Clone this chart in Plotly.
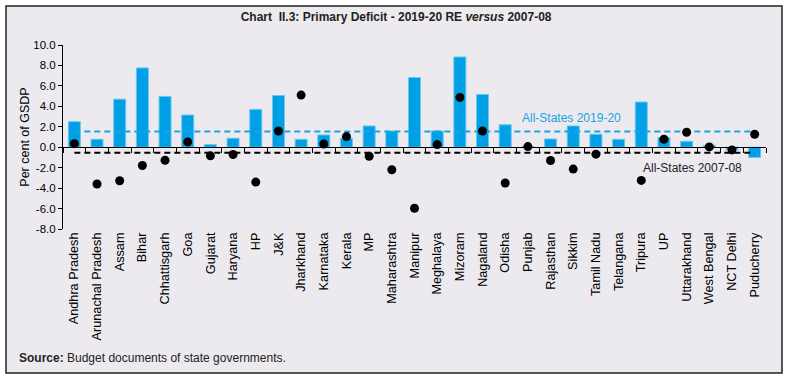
import plotly.graph_objects as go

states = ["Andhra Pradesh", "Arunachal Pradesh", "Assam", "Bihar", "Chhattisgarh", "Goa",
          "Gujarat", "Haryana", "HP", "J&K", "Jharkhand", "Karnataka", "Kerala", "MP",
          "Maharashtra", "Manipur", "Meghalaya", "Mizoram", "Nagaland", "Odisha", "Punjab",
          "Rajasthan", "Sikkim", "Tamil Nadu", "Telangana", "Tripura", "UP", "Uttarakhand",
          "West Bengal", "NCT Delhi", "Puducherry"]

pd_2019_20 = [2.5, 0.78, 4.7, 7.76, 4.97, 3.15, 0.26, 0.88, 3.7, 5.06, 0.78, 1.2, 0.88, 2.08,
              1.59, 6.82, 1.59, 8.83, 5.16, 2.2, 0.05, 0.81, 2.08, 1.27, 0.78, 4.42, 0.94,
              0.58, 0.19, -0.25, -1.0]

pd_2007_08 = [0.35, -3.6, -3.28, -1.79, -1.27, 0.52, -0.84, -0.71, -3.41, 1.59, 5.1, 0.32,
              1.04, -0.88, -2.2, -5.97, 0.26, 4.87, 1.59, -3.5, 0.06, -1.3, -2.14, -0.68,
              None, -3.25, 0.78, 1.46, 0.03, -0.26, 1.27]

all_states_2019_20 = 1.53
all_states_2007_08 = -0.55

y_ticks = [10, 8, 6, 4, 2, 0, -2, -4, -6, -8]
y_tick_labels = ["10.0", "8.0", "6.0", "4.0", "2.0", "0.0", "-2.0", "-4.0", "-6.0", "-8.0"]

BLUE = "#00A0E6"
BG = "#EDEAEF"
FONT = "Liberation Sans, Arial, sans-serif"

fig = go.Figure()

fig.add_trace(go.Bar(x=states, y=pd_2019_20, marker=dict(color=BLUE, line=dict(color="#6CC6EE", width=1)),
                     width=0.53, showlegend=False))

fig.add_trace(go.Scatter(x=states, y=[all_states_2019_20] * len(states), mode="lines",
                         line=dict(color="#1AA3E3", width=2, dash="6px,4px"), showlegend=False))
fig.add_trace(go.Scatter(x=states, y=[all_states_2007_08] * len(states), mode="lines",
                         line=dict(color="black", width=2, dash="6px,4px"), showlegend=False))

fig.add_trace(go.Scatter(x=states, y=pd_2007_08, mode="markers",
                         marker=dict(color="black", size=9), showlegend=False))

# axis at zero with boundary ticks
fig.add_trace(go.Scatter(x=states, y=[None] * len(states), xaxis="x2", mode="markers",
                         showlegend=False, hoverinfo="skip"))

ymin, ymax = -8, 10
zero_pos = (0 - ymin) / (ymax - ymin)

L, R, T, B = 63, 23, 45, 151

fig.update_layout(
    width=789, height=380,
    margin=dict(l=L, r=R, t=T, b=B),
    paper_bgcolor="white",
    plot_bgcolor="rgba(0,0,0,0)",
    font=dict(family=FONT, size=11, color="black"),
    title=dict(text="<b>Chart  II.3: Primary Deficit - 2019-20 RE <i>versus</i> 2007-08</b>",
               x=0.502, xanchor="center", y=0.957, yanchor="middle",
               font=dict(family=FONT, size=12, color="#222")),
    xaxis=dict(type="category", range=[-0.5, len(states) - 0.5], tickangle=-90,
               showline=False, ticks="", showgrid=False, zeroline=False, automargin=False,
               tickfont=dict(size=12.7, color="black")),
    xaxis2=dict(type="category", range=[-0.5, len(states) - 0.5], overlaying="x",
                anchor="free", position=zero_pos, side="bottom", automargin=False,
                showline=True, linecolor="black", linewidth=1.3,
                ticks="outside", tickson="boundaries", ticklen=5, tickwidth=1.3, tickcolor="black",
                showticklabels=False, showgrid=False, zeroline=False),
    yaxis=dict(range=[ymin, ymax], tickvals=y_ticks, ticktext=y_tick_labels, automargin=False,
               showline=True, linecolor="black", linewidth=1, ticks="outside", ticklen=4,
               tickcolor="black", showgrid=False, zeroline=False,
               title=dict(text="Per cent of GSDP", font=dict(size=12.5), standoff=0),
               tickfont=dict(size=11.5)),
    bargap=0.47,
)

# background panel with frame
pw, ph = 789 - L - R, 380 - T - B
def px(x):
    return (x - L) / pw
def py(y):
    return 1 - (y - T) / ph

fig.add_shape(type="rect", xref="paper", yref="paper", x0=px(6), x1=px(782), y0=py(6), y1=py(373),
              fillcolor=BG, line=dict(color="#222", width=1.5), layer="below")

fig.add_annotation(text="All-States 2019-20", x="Punjab", y=all_states_2019_20, xref="x", yref="y",
                   xanchor="left", yanchor="bottom", yshift=5, xshift=-8, showarrow=False,
                   font=dict(color="#1AA3E3", size=12))
fig.add_annotation(text="All-States 2007-08", x="Telangana", y=all_states_2007_08, xref="x", yref="y",
                   xanchor="left", yanchor="top", yshift=-6, xshift=22, showarrow=False,
                   font=dict(color="#222", size=12))

fig.add_annotation(text="<b>Source:</b> Budget documents of state governments.",
                   xref="paper", yref="paper", x=px(17), y=py(358), xanchor="left", yanchor="middle",
                   showarrow=False, font=dict(size=12, color="#222"))

fig.write_html("out.html", config={"displayModeBar": False},
               post_script="document.body.style.margin='0';document.body.style.overflow='hidden';")
